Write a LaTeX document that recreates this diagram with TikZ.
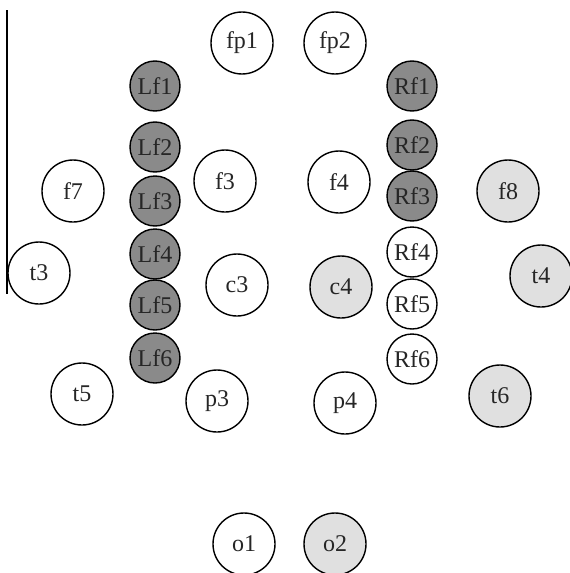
\documentclass[tikz,border=0pt]{standalone}
\usepackage{fontspec}
\setmainfont{Liberation Serif}
\usepackage{tikz}
\definecolor{elecdark}{RGB}{138,138,138}
\definecolor{eleclight}{RGB}{224,224,224}

\begin{document}
\begin{tikzpicture}[
  x=0.5pt, y=-0.5pt,
  every node/.style={font=\fontsize{12}{14}\selectfont, text=black!85},
  elec/.style ={draw, circle, line width=0.7pt, fill=white,
                minimum size=31pt, inner sep=0pt},
  small/.style={draw, circle, line width=0.7pt, fill=white,
                minimum size=25pt, inner sep=0pt},
  dark/.style ={fill=elecdark},
  light/.style={fill=eleclight},
]
\useasboundingbox (0,0) rectangle (569,573);

% left margin rule
\coordinate (ltop) at (7,10);
\coordinate (lbot) at (7,294);
\draw[line width=0.6pt] (ltop) -- (lbot);

% midline electrodes
\node[elec]        (fp1) at (242,43)  {fp1};
\node[elec]        (fp2) at (335,43)  {fp2};
\node[elec]        (f3)  at (225,181) {f3};
\node[elec]        (f4)  at (339,182) {f4};
\node[elec]        (c3)  at (237,285) {c3};
\node[elec, light] (c4)  at (341,287) {c4};
\node[elec]        (p3)  at (217,401) {p3};
\node[elec]        (p4)  at (345,403) {p4};
\node[elec]        (o1)  at (244,544) {o1};
\node[elec, light] (o2)  at (335,544) {o2};

% lateral electrodes
\node[elec]        (f7)  at (73,191)  {f7};
\node[elec]        (t3)  at (39,273)  {t3};
\node[elec]        (t5)  at (82,394)  {t5};
\node[elec, light] (f8)  at (508,191) {f8};
\node[elec, light] (t4)  at (541,276) {t4};
\node[elec, light] (t6)  at (500,396) {t6};

% left strip
\node[small, dark] (Lf1) at (155,86)  {Lf1};
\node[small, dark] (Lf2) at (155,147) {Lf2};
\node[small, dark] (Lf3) at (155,201) {Lf3};
\node[small, dark] (Lf4) at (155,254) {Lf4};
\node[small, dark] (Lf5) at (155,305) {Lf5};
\node[small, dark] (Lf6) at (155,358) {Lf6};

% right strip
\node[small, dark] (Rf1) at (412,86)  {Rf1};
\node[small, dark] (Rf2) at (412,145) {Rf2};
\node[small, dark] (Rf3) at (412,196) {Rf3};
\node[small]       (Rf4) at (412,252) {Rf4};
\node[small]       (Rf5) at (412,304) {Rf5};
\node[small]       (Rf6) at (412,359) {Rf6};

\end{tikzpicture}
\end{document}
